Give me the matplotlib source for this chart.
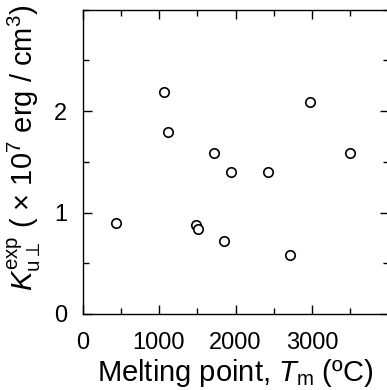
import matplotlib
matplotlib.use("Agg")
import matplotlib.pyplot as plt
from matplotlib.ticker import MultipleLocator

plt.rcParams['font.family'] = ['Liberation Sans', 'DejaVu Sans']
plt.rcParams['mathtext.fontset'] = 'custom'
plt.rcParams['mathtext.rm'] = 'Liberation Sans'
plt.rcParams['mathtext.it'] = 'Liberation Sans:italic'

melting_point = [442, 1070, 1113, 1723, 1941, 2421, 2974, 3497, 1480, 1514, 1854, 2712]
k_exp = [0.90, 2.19, 1.79, 1.59, 1.40, 1.40, 2.09, 1.59, 0.88, 0.84, 0.72, 0.58]

fig = plt.figure(figsize=(3.87, 3.90), dpi=100)
ax = fig.add_axes([82.5/387, 1-314/390, (388.5-82.5)/387, (314-9.5)/390])
ax.plot(melting_point, k_exp, 'o', mfc='white', mec='black', ms=6.8, mew=1.2, ls='none')
ax.set_xlim(0, 4000)
ax.set_ylim(0, 3)
ax.set_xticks([0, 1000, 2000, 3000])
ax.set_yticks([0, 1, 2])
ax.xaxis.set_minor_locator(MultipleLocator(500))
ax.yaxis.set_minor_locator(MultipleLocator(0.5))
ax.tick_params(which='both', direction='in', top=True, right=True, labelsize=17, width=1)
ax.tick_params(which='major', length=6.5, pad=11)
ax.tick_params(axis='x', which='major', pad=13)
ax.tick_params(which='minor', length=4)
for s in ax.spines.values():
    s.set_linewidth(1)
ax.set_xlabel('Melting point, $T_{\\mathrm{m}}$ (ºC)', fontsize=21, labelpad=2)
ax.set_ylabel('$K_{\\mathrm{u}\\perp}^{\\mathrm{exp}}$ ( × 10$^{7}$ erg / cm$^{3}$)', fontsize=21)
ax.yaxis.set_label_coords(-0.128, 0.545)
fig.savefig('out.png', dpi=100)
